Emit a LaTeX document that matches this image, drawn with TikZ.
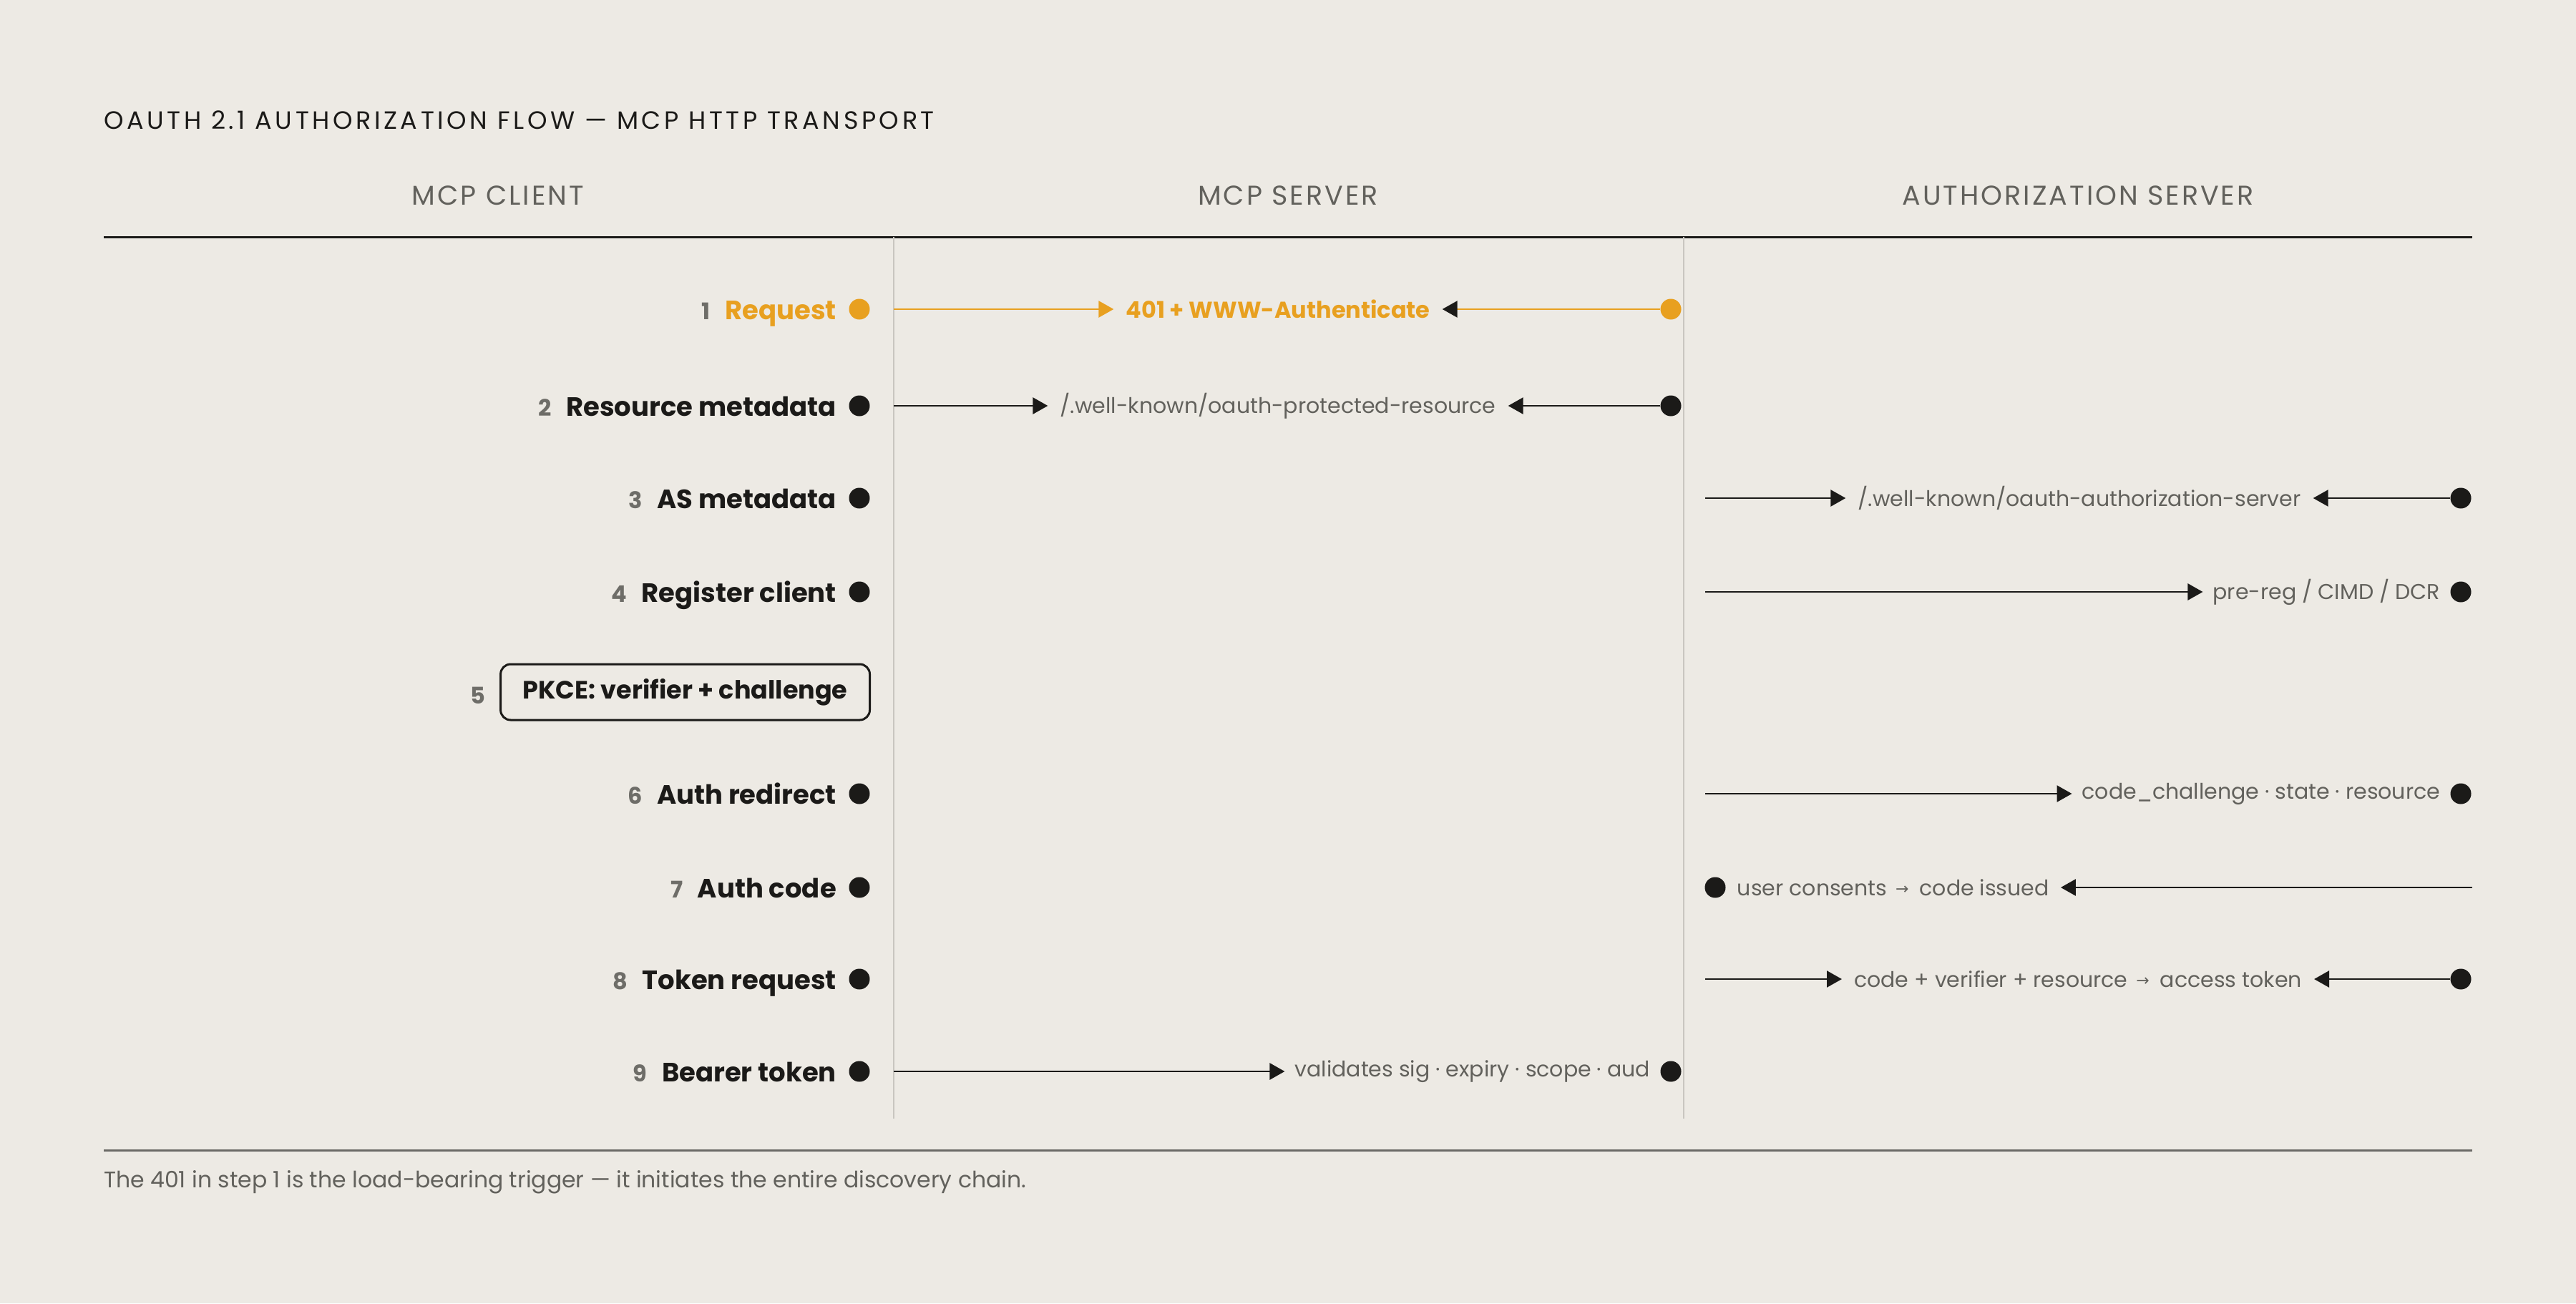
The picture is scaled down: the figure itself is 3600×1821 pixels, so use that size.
\documentclass[tikz,border=0pt]{standalone}
\usepackage{fontspec}
\setmainfont{Poppins}
\newfontfamily\symf{DejaVu Sans}
\usetikzlibrary{arrows.meta}
\definecolor{bg}{RGB}{237,234,228}
\definecolor{ink}{RGB}{27,26,24}
\definecolor{oran}{RGB}{232,160,32}
\definecolor{grayt}{RGB}{98,97,92}
\definecolor{grayn}{RGB}{110,109,104}
\definecolor{lifeln}{RGB}{201,198,192}
\definecolor{footln}{RGB}{107,106,102}
\newcommand\fsTitle{\fontsize{35}{42}\selectfont\addfontfeatures{LetterSpace=13}}
\newcommand\fsHead{\fontsize{38}{44}\selectfont\addfontfeatures{LetterSpace=8}}
\newcommand\fsStep{\fontsize{37}{44}\selectfont\bfseries}
\newcommand\fsNum{\fontsize{32}{38}\selectfont\bfseries}
\newcommand\fsMsg{\fontsize{30}{36}\selectfont}
\newcommand\rarr{\hspace{12pt}\raisebox{2pt}{\symf\fontsize{22}{22}\selectfont →}\hspace{15pt}}
\begin{document}
\begin{tikzpicture}[x=1pt,y=-1pt,
  dot/.style={circle, fill=ink, minimum size=29pt, inner sep=0pt},
  odot/.style={dot, fill=oran},
  msgtxt/.style={font=\fsMsg, text=grayt, inner xsep=17pt, inner ysep=0pt},
  steplbl/.style={font=\fsStep, text=ink, inner sep=0pt, anchor=base east},
  stepnum/.style={font=\fsNum, text=grayn, inner sep=0pt, anchor=base east},
  msg/.style={line width=2.6pt, draw=ink, -{Triangle[length=21pt,width=23pt]}},
  omsg/.style={msg, draw=oran, -{Triangle[length=21pt,width=23pt,color=oran]}},
  omsgk/.style={msg, draw=oran, -{Triangle[length=21pt,width=23pt,color=ink]}},
  life/.style={draw=lifeln, line width=2pt},
  head/.style={font=\fsHead, text=grayt, inner sep=0pt}]
\fill[bg] (0,0) rectangle (3600,1821);
\useasboundingbox (0,0) rectangle (3600,1821);

% title and headers
\node[font=\fsTitle, text=ink, inner sep=0pt, anchor=west] (title) at (145,168) {OAUTH 2.1 AUTHORIZATION FLOW — MCP HTTP TRANSPORT};
\node[head] (hc) at (696,273) {MCP CLIENT};
\node[head] (hs) at (1800,273) {MCP SERVER};
\node[head] (ha) at (2904,273) {AUTHORIZATION SERVER};
\coordinate (rl) at (145,331);
\coordinate (rr) at (3455,331);
\draw[ink, line width=3pt] (rl) -- (rr);

% lifelines
\coordinate (l1t) at (1249,331); \coordinate (l1b) at (1249,1563);
\coordinate (l2t) at (2353,331); \coordinate (l2b) at (2353,1563);
\draw[life] (l1t) -- (l1b);
\draw[life] (l2t) -- (l2b);

% ---- row 1
\node[odot] (c1) at (1201,432) {};
\node[steplbl, text=oran] (t1) at (1169,446) {Request};
\node[stepnum] (n1) at ([xshift=-20pt]t1.base west) {1};
\node[odot] (s1) at (2335,432) {};
\node[msgtxt, text=oran, font=\fsMsg\bfseries\fontsize{32}{36}\selectfont] (m1) at (1786,432) {401 + WWW-Authenticate};
\coordinate (a1) at (1249,432);
\draw[omsg] (a1) -- (m1.west);
\draw[omsgk] (s1) -- (m1.east);

% ---- row 2
\node[dot] (c2) at (1201,567) {};
\node[steplbl] (t2) at (1169,581) {Resource metadata};
\node[stepnum] (n2) at ([xshift=-20pt]t2.base west) {2};
\node[dot] (s2) at (2335,567) {};
\node[msgtxt] (m2) at (1786,567) {/.well-known/oauth-protected-resource};
\coordinate (a2) at (1249,567);
\draw[msg] (a2) -- (m2.west);
\draw[msg] (s2) -- (m2.east);

% ---- row 3
\node[dot] (c3) at (1201,696) {};
\node[steplbl] (t3) at (1169,710) {AS metadata};
\node[stepnum] (n3) at ([xshift=-20pt]t3.base west) {3};
\node[dot] (z3) at (3439,696) {};
\node[msgtxt] (m3) at (2906,696) {/.well-known/oauth-authorization-server};
\coordinate (a3) at (2383,696);
\draw[msg] (a3) -- (m3.west);
\draw[msg] (z3) -- (m3.east);

% ---- row 4
\node[dot] (c4) at (1201,827) {};
\node[steplbl] (t4) at (1169,841) {Register client};
\node[stepnum] (n4) at ([xshift=-20pt]t4.base west) {4};
\node[dot] (z4) at (3439,827) {};
\node[msgtxt, anchor=east, inner xsep=14pt] (m4) at (z4.west) {pre-reg / CIMD / DCR};
\coordinate (a4) at (2383,827);
\draw[msg] (a4) -- (m4.west);

% ---- row 5
\node[draw=ink, line width=3pt, rounded corners=14pt, font=\fontsize{35}{42}\selectfont\bfseries, text=ink,
      inner xsep=31pt, inner ysep=0pt, minimum height=78pt, anchor=east] (p5) at (1217,967) {PKCE: verifier + challenge};
\node[stepnum, anchor=base east] (n5) at ([xshift=-20pt]p5.west |- 0,983) {5};

% ---- row 6
\node[dot] (c6) at (1201,1109) {};
\node[steplbl] (t6) at (1169,1123) {Auth redirect};
\node[stepnum] (n6) at ([xshift=-20pt]t6.base west) {6};
\node[dot] (z6) at (3439,1109) {};
\node[msgtxt, anchor=east, inner xsep=14pt] (m6) at (z6.west) {code\_challenge · state · resource};
\coordinate (a6) at (2383,1109);
\draw[msg] (a6) -- (m6.west);

% ---- row 7
\node[dot] (c7) at (1201,1240) {};
\node[steplbl] (t7) at (1169,1254) {Auth code};
\node[stepnum] (n7) at ([xshift=-20pt]t7.base west) {7};
\node[dot] (z7) at (2397,1240) {};
\node[msgtxt, anchor=west, inner xsep=16pt] (m7) at (z7.east) {user consents\rarr code issued};
\coordinate (a7) at (3455,1240);
\draw[msg] (a7) -- (m7.east);

% ---- row 8
\node[dot] (c8) at (1201,1368) {};
\node[steplbl] (t8) at (1169,1382) {Token request};
\node[stepnum] (n8) at ([xshift=-20pt]t8.base west) {8};
\node[dot] (z8) at (3439,1368) {};
\node[msgtxt] (m8) at (2904,1368) {code + verifier + resource\rarr access token};
\coordinate (a8) at (2383,1368);
\draw[msg] (a8) -- (m8.west);
\draw[msg] (z8) -- (m8.east);

% ---- row 9
\node[dot] (c9) at (1201,1497) {};
\node[steplbl] (t9) at (1169,1511) {Bearer token};
\node[stepnum] (n9) at ([xshift=-20pt]t9.base west) {9};
\node[dot] (s9) at (2335,1497) {};
\node[msgtxt, anchor=east, inner xsep=14pt] (m9) at (s9.west) {validates sig · expiry · scope · aud};
\coordinate (a9) at (1249,1497);
\draw[msg] (a9) -- (m9.west);

% footer
\coordinate (fl) at (145,1607);
\coordinate (fr) at (3455,1607);
\draw[footln, line width=3pt] (fl) -- (fr);
\node[font=\fontsize{31.5}{36}\selectfont, text=grayt, inner sep=0pt, anchor=mid west] (foot) at (145,1657) {The 401 in step 1 is the load-bearing trigger — it initiates the entire discovery chain.};
\end{tikzpicture}
\end{document}
